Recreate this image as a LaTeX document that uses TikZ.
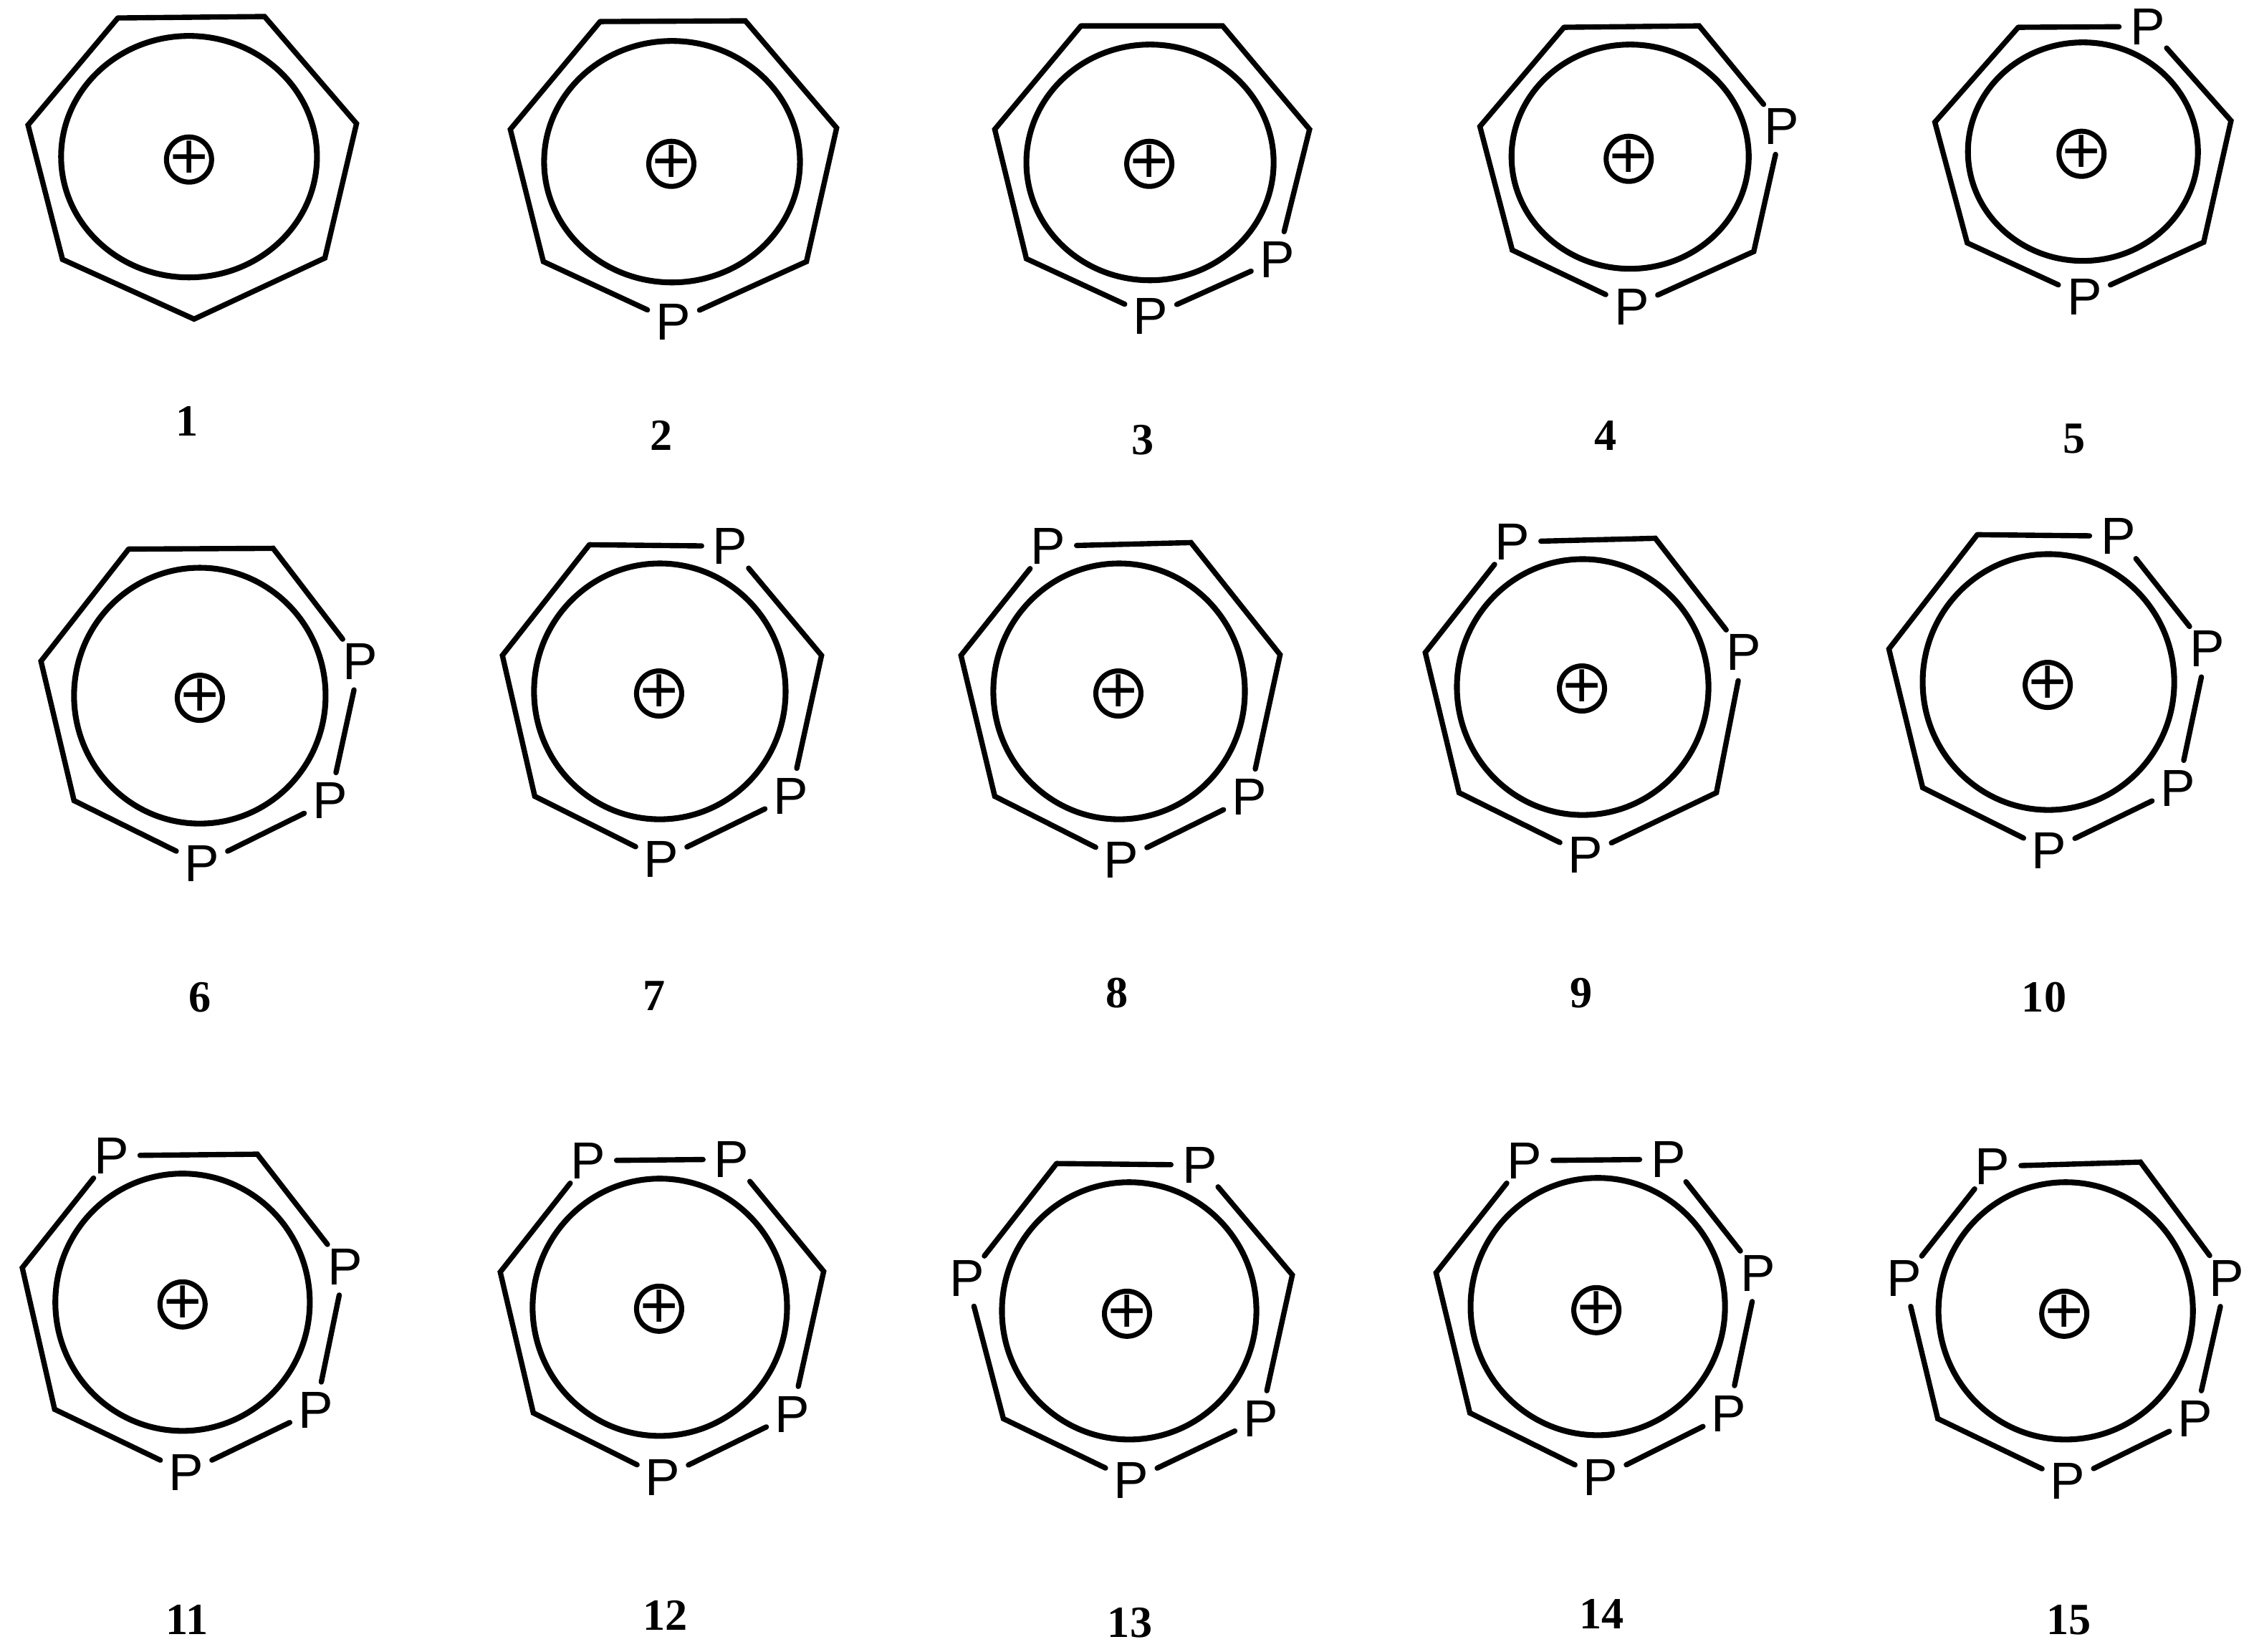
\documentclass[tikz,border=0pt]{standalone}
\usepackage{fontspec}
\setmainfont{Liberation Serif}
\newfontfamily\atomfont{Liberation Sans}
\usepackage{tikz}

\begin{document}
\begin{tikzpicture}
	[x=0.020064cm, y=-0.020064cm,
	atom/.style={circle, inner sep=0pt, outer sep=0pt, minimum size=0.8cm, font=\atomfont\fontsize{20.7}{21}\selectfont},
	charge/.style={circle, draw, line width=2pt, inner sep=0pt, minimum size=0.63cm, font=\atomfont\fontsize{26}{26}\selectfont},
	tag/.style={font=\bfseries\fontsize{17.7}{18}\selectfont},
	bond/.style={line width=2.1pt, line cap=round},
	ring/.style={line width=2.3pt}]
	\useasboundingbox (0,0) rectangle (1568,1149.3);

	%ring, charge and number of each molecule.
	\foreach \n/\cx/\cy/\rx/\ry/\px/\py/\lx/\ly in {
		1/131.5/109/89/84/131.5/111/130/293,
		2/467.5/112.5/89/84/467/114/460/303,
		3/800/113/86/82/799.5/114/795/306,
		4/1134/109/82.5/78/1133/110.5/1117/303,
		5/1449/105.5/80/76/1448/107/1443/305,
		6/139/484/87.5/89/139/485.5/139/694,
		7/459/481/87.5/89/458.5/482.5/455/693,
		8/778.5/481/87.5/89/778/482.5/777/691,
		9/1101/478/87.5/89/1100.5/479/1100/691,
		10/1425/474.5/87.5/89/1424.5/476.5/1422/694,
		11/127/906/88.5/89.5/127/907.5/130/1127,
		12/459/909.5/88.5/89.5/458.5/910.5/463/1124,
		13/785.5/912/88.5/89.5/784/914/786/1129,
		14/1111.5/909/88.5/89.5/1110.5/911.5/1114/1123,
		15/1437/912/88.5/89.5/1436/914/1439/1127}{
		\draw[ring] (\cx,\cy) ellipse [x radius=\rx, y radius=\ry];
		\node[charge] (plus\n) at (\px,\py) {\makebox[0pt]{+}};
		\node[tag] (tag\n) at (\lx,\ly) {\n};
	}

	%first row.
	\foreach \v/\x/\y in {a/82/12.5,b/184/11.5,c/248/86,d/226/179.5,e/135/222,f/43.5/180.5,g/19.5/87} \coordinate (m1\v) at (\x,\y);
	\foreach \v/\x/\y in {a/417.5/15,b/518.5/14.5,c/582/89,d/561/182,f/378/182,g/355/90} \coordinate (m2\v) at (\x,\y);
	\foreach \v/\x/\y in {e/468.5/224} \node[atom] (m2\v) at (\x,\y) {P};
	\foreach \v/\x/\y in {a/752/18,b/850.5/18,c/911/90,f/714/180,g/692/90} \coordinate (m3\v) at (\x,\y);
	\foreach \v/\x/\y in {d/888.5/180.5,e/800.5/220} \node[atom] (m3\v) at (\x,\y) {P};
	\foreach \v/\x/\y in {a/1088/19,b/1182/18,d/1220/175,f/1052/174,g/1029.5/88} \coordinate (m4\v) at (\x,\y);
	\foreach \v/\x/\y in {c/1239.5/88,e/1135/213.5} \node[atom] (m4\v) at (\x,\y) {P};
	\foreach \v/\x/\y in {a/1404/19,c/1552/84,d/1533/168.5,f/1368.5/169,g/1346/85} \coordinate (m5\v) at (\x,\y);
	\foreach \v/\x/\y in {b/1494/18.5,e/1450/206.5} \node[atom] (m5\v) at (\x,\y) {P};

	%second row.
	\foreach \v/\x/\y in {a/89.5/382,b/190/381.5,f/51.5/557,g/28.5/460} \coordinate (m6\v) at (\x,\y);
	\foreach \v/\x/\y in {c/250.5/460.5,d/229.5/557,e/140.5/601} \node[atom] (m6\v) at (\x,\y) {P};
	\foreach \v/\x/\y in {a/410/379,c/571.5/456,f/372/554,g/349.5/456} \coordinate (m7\v) at (\x,\y);
	\foreach \v/\x/\y in {b/508/380,d/550/554,e/460/598} \node[atom] (m7\v) at (\x,\y) {P};
	\foreach \v/\x/\y in {b/828.5/377.5,c/890.5/455.5,f/692/554,g/668.5/456} \coordinate (m8\v) at (\x,\y);
	\foreach \v/\x/\y in {a/729/380,d/869/554.5,e/780/598.5} \node[atom] (m8\v) at (\x,\y) {P};
	\foreach \v/\x/\y in {b/1151.5/374.5,d/1194/551.5,f/1015/551.5,g/991.5/454} \coordinate (m9\v) at (\x,\y);
	\foreach \v/\x/\y in {a/1052/377,c/1213/454,e/1103/595} \node[atom] (m9\v) at (\x,\y) {P};
	\foreach \v/\x/\y in {a/1375.5/372,f/1337.5/548,g/1314/451.5} \coordinate (m10\v) at (\x,\y);
	\foreach \v/\x/\y in {b/1473.5/373,c/1535.5/451.5,d/1515/548.5,e/1425.5/592} \node[atom] (m10\v) at (\x,\y) {P};

	%third row.
	\foreach \v/\x/\y in {b/179/803,f/38/980.5,g/15.5/882} \coordinate (m11\v) at (\x,\y);
	\foreach \v/\x/\y in {a/77.5/804,c/240/881.5,d/219.5/981,e/129.5/1024.5} \node[atom] (m11\v) at (\x,\y) {P};
	\foreach \v/\x/\y in {c/573/884.5,f/371/983,g/348/885} \coordinate (m12\v) at (\x,\y);
	\foreach \v/\x/\y in {a/409/807.5,b/509/806.5,d/551/984,e/461/1028} \node[atom] (m12\v) at (\x,\y) {P};
	\foreach \v/\x/\y in {a/735/809.5,c/899/887,f/698/987} \coordinate (m13\v) at (\x,\y);
	\foreach \v/\x/\y in {b/834.5/810.5,d/877/987,e/787/1030,g/672.5/889.5} \node[atom] (m13\v) at (\x,\y) {P};
	\foreach \v/\x/\y in {f/1022.5/983,g/999/885.5} \coordinate (m14\v) at (\x,\y);
	\foreach \v/\x/\y in {a/1060.5/807.5,b/1160.5/806.5,c/1223/886,d/1202.5/983.5,e/1113.5/1028} \node[atom] (m14\v) at (\x,\y) {P};
	\foreach \v/\x/\y in {b/1489/808.5,f/1348/987} \coordinate (m15\v) at (\x,\y);
	\foreach \v/\x/\y in {a/1386/811.5,c/1549/889.5,d/1527/987,e/1438.5/1030.5,g/1324.5/889.5} \node[atom] (m15\v) at (\x,\y) {P};

	%bonds round each ring.
	\foreach \n in {1,2,...,15}{
		\draw[bond] (m\n a) -- (m\n b) -- (m\n c) -- (m\n d) -- (m\n e) -- (m\n f) -- (m\n g) -- (m\n a);
	}
\end{tikzpicture}
\end{document}
